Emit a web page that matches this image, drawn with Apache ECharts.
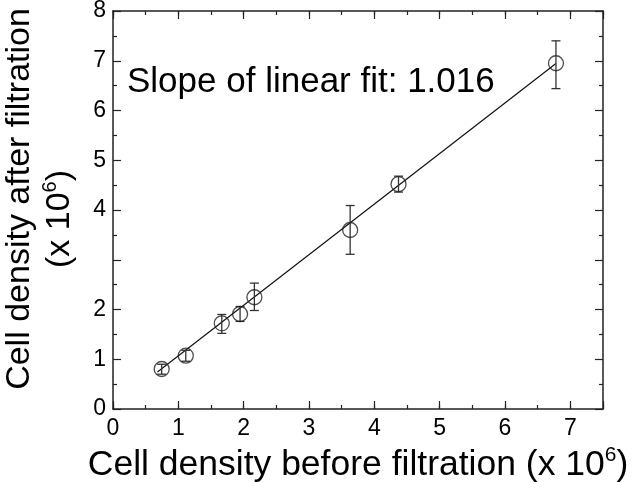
<!DOCTYPE html>
<html><head><meta charset="utf-8">
<script src="https://cdn.jsdelivr.net/npm/echarts@6/dist/echarts.min.js"></script>
<style>html,body{margin:0;padding:0;background:#fff}#c{width:633px;height:482px}</style>
</head><body><div id="c"></div>
<script>
// Data
const xBefore = [0.745, 1.114, 1.665, 1.945, 2.164, 3.630, 4.370, 6.780];
const yAfter  = [0.804, 1.072, 1.722, 1.910, 2.246, 3.598, 4.520, 6.950];
const yLow    = [0.70, 0.96, 1.52, 1.76, 1.98, 3.11, 4.36, 6.44];
const yHigh   = [0.90, 1.18, 1.90, 2.06, 2.53, 4.09, 4.68, 7.40];
const fitX = [0.68, 6.78];
const fitY = [0.745, 6.943];
const xTickLabels = [0, 1, 2, 3, 4, 5, 6, 7];
const yTickLabels = [0, 1, 2, 4, 5, 6, 7, 8];
const slopeText = 'Slope of linear fit: 1.016';
const xTitle = 'Cell density before filtration (x 10';
const yTitle1 = 'Cell density after filtration';
const yTitle2 = '(x 10';
const expText = '6';

const FONT = '"Liberation Sans", Arial, Helvetica, sans-serif';
const AX = '#222';

const chart = echarts.init(document.getElementById('c'), null, {renderer: 'canvas'});

const points = xBefore.map((x, i) => [x, yAfter[i]]);
const bars = xBefore.map((x, i) => [x, yLow[i], yHigh[i]]);
const fitLine = fitX.map((x, i) => [x, fitY[i]]);

function xAxisCfg(pos, interval, tickLen, withLabels, withLine) {
  return {
    type: 'value', position: pos, min: 0, max: 7.5, interval: interval,
    axisLine: {show: withLine, onZero: false, lineStyle: {color: AX, width: 1.5}},
    axisTick: {show: true, inside: true, length: tickLen, lineStyle: {color: AX, width: 1.2}},
    splitLine: {show: false},
    axisLabel: withLabels ? {
      show: true, margin: 8, color: '#000', fontFamily: FONT, fontSize: 23,
      formatter: v => (xTickLabels.indexOf(v) >= 0 ? String(v) : '')
    } : {show: false},
  };
}
function yAxisCfg(pos, withLabels) {
  return {
    type: 'value', position: pos, min: 0, max: 8, interval: 1,
    axisLine: {show: true, onZero: false, lineStyle: {color: AX, width: 1.5}},
    axisTick: {show: true, inside: true, length: 8, lineStyle: {color: AX, width: 1.2}},
    minorTick: {show: true, splitNumber: 2, length: 4, lineStyle: {color: AX, width: 1.2}},
    splitLine: {show: false},
    axisLabel: withLabels ? {
      show: true, margin: 7, color: '#000', fontFamily: FONT, fontSize: 23,
      formatter: v => (yTickLabels.indexOf(v) >= 0 ? String(v) : '')
    } : {show: false},
  };
}

const xMain = xAxisCfg('bottom', 1, 8, true, true);
xMain.name = '{a|' + xTitle + '}{s|' + expText + '}{a|)}';
xMain.nameLocation = 'middle';
xMain.nameGap = 35;
xMain.nameTextStyle = {
  rich: {
    a: {fontFamily: FONT, fontSize: 35.5, color: '#000', lineHeight: 40},
    s: {fontFamily: FONT, fontSize: 21, color: '#000', verticalAlign: 'top', lineHeight: 40, padding: [0, 0, 14, 0]}
  }
};

const option = {
  animation: false,
  backgroundColor: '#fff',
  grid: {left: 113, right: 30, top: 11, bottom: 73, containLabel: false, outerBoundsMode: 'none'},
  xAxis: [
    xMain,
    xAxisCfg('bottom', 0.5, 4, false, false),
    xAxisCfg('top', 1, 8, false, true),
    xAxisCfg('top', 0.5, 4, false, false)
  ],
  yAxis: [yAxisCfg('left', true), yAxisCfg('right', false)],
  graphic: [
    {type: 'text', left: 127, top: 65, style: {text: slopeText, font: '35px ' + FONT, fill: '#000'}},
    {type: 'text', x: 20, y: 199, rotation: Math.PI / 2,
      style: {text: yTitle1, font: '34px ' + FONT, fill: '#000', textAlign: 'center', textVerticalAlign: 'middle'}},
    {type: 'text', x: 60, y: 219, rotation: Math.PI / 2,
      style: {text: '{a|' + yTitle2 + '}{s|' + expText + '}{a|)}', textAlign: 'center', textVerticalAlign: 'middle',
        rich: {
          a: {fontFamily: FONT, fontSize: 34, fill: '#000', lineHeight: 40},
          s: {fontFamily: FONT, fontSize: 20, fill: '#000', verticalAlign: 'top', lineHeight: 40, padding: [0, 0, 14, 0]}
        }}}
  ],
  series: [
    {
      type: 'line', data: fitLine, xAxisIndex: 0, yAxisIndex: 0,
      symbol: 'none', lineStyle: {color: '#111', width: 1.2}, z: 2, silent: true
    },
    {
      type: 'custom', data: bars, xAxisIndex: 0, yAxisIndex: 0, z: 3, silent: true,
      renderItem: function (params, api) {
        const x = api.value(0);
        const lo = api.coord([x, api.value(1)]);
        const hi = api.coord([x, api.value(2)]);
        const w = 4.5;
        const st = {stroke: '#333', lineWidth: 1.3, fill: null};
        return {type: 'group', children: [
          {type: 'line', shape: {x1: lo[0], y1: lo[1], x2: hi[0], y2: hi[1]}, style: st},
          {type: 'line', shape: {x1: lo[0] - w, y1: lo[1], x2: lo[0] + w, y2: lo[1]}, style: st},
          {type: 'line', shape: {x1: hi[0] - w, y1: hi[1], x2: hi[0] + w, y2: hi[1]}, style: st}
        ]};
      }
    },
    {
      type: 'scatter', data: points, xAxisIndex: 0, yAxisIndex: 0, z: 4,
      symbol: 'circle', symbolSize: 15,
      itemStyle: {color: 'rgba(0,0,0,0)', borderColor: '#222', borderWidth: 1.3}
    }
  ]
};
chart.setOption(option);
</script>
</body></html>
